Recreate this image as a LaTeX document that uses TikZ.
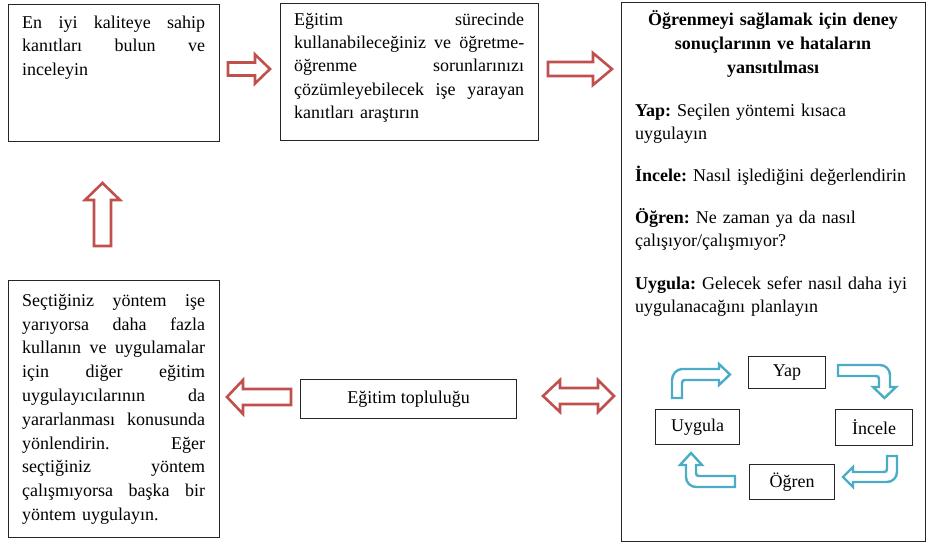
\documentclass[tikz,border=0pt]{standalone}
\usepackage{fontspec}
\setmainfont{Liberation Serif}
\definecolor{myred}{HTML}{C0504D}
\definecolor{mycyan}{HTML}{4BACC6}
\newcommand\fst{\rule{0pt}{16.5pt}}
\newcommand\jl[2]{\leavevmode\hbox to #1{#2}}
\frenchspacing
\begin{document}
\begin{tikzpicture}[x=1pt,y=-1pt,
  box/.style={draw=black!85, line width=1.1pt, rectangle, inner sep=0pt, anchor=north west, font=\fontsize{18}{22}\selectfont},
  txt/.style={inner sep=0pt, anchor=north west, align=left, font=\fontsize{18}{23.6}\selectfont},
  redarrow/.style={draw=myred, line width=2.6pt, fill=white, line join=miter},
  cyarrow/.style={draw=mycyan, line width=2.4pt, fill=white, line join=miter}]
\useasboundingbox (0,0) rectangle (926,543);
% boxes
\node[box, minimum width=211pt, minimum height=137pt] (A) at (8,4) {};
\node[box, minimum width=258pt, minimum height=137pt] (B) at (280,3) {};
\node[box, minimum width=304pt, minimum height=539pt] (C) at (621,2) {};
\node[box, minimum width=211pt, minimum height=257pt] (D) at (8,280) {};
\node[box, minimum width=216pt, minimum height=39pt] (E) at (300,379) {Eğitim topluluğu};
\node[box, minimum width=77pt, minimum height=32pt] (yap) at (748,356) {Yap};
\node[box, minimum width=77pt, minimum height=36pt] (incele) at (835,409) {İncele};
\node[box, minimum width=85pt, minimum height=35pt] (ogren) at (749,464) {Öğren};
\node[box, minimum width=84pt, minimum height=35pt] (uygula) at (655,409) {Uygula};
% texts
\node[txt, text width=184pt] (tA) at (22,11.5) {\fst\jl{183pt}{En\hfill iyi\hfill kaliteye\hfill sahip}\\
\jl{183pt}{kanıtları\hfill bulun\hfill ve}\\
inceleyin};
\node[txt, text width=235pt, font=\fontsize{18}{23.4}\selectfont] (tB) at (294,8.5) {\fst\jl{230pt}{Eğitim\hfill sürecinde}\\
\jl{230pt}{kullanabileceğiniz\hfill ve\hfill öğretme-}\\
\jl{230pt}{öğrenme\hfill sorunlarınızı}\\
\jl{230pt}{çözümleyebilecek\hfill işe\hfill yarayan}\\
kanıtları araştırın};
\node[txt, text width=184pt, font=\fontsize{18}{23.8}\selectfont] (tD) at (22,289.5) {\fst\jl{183pt}{Seçtiğiniz\hfill yöntem\hfill işe}\\
\jl{183pt}{yarıyorsa\hfill daha\hfill fazla}\\
\jl{183pt}{kullanın\hfill ve\hfill uygulamalar}\\
\jl{183pt}{için\hfill diğer\hfill eğitim}\\
\jl{183pt}{uygulayıcılarının\hfill da}\\
\jl{183pt}{yararlanması\hfill konusunda}\\
\jl{183pt}{yönlendirin.\hfill Eğer}\\
\jl{183pt}{seçtiğiniz\hfill yöntem}\\
\jl{183pt}{çalışmıyorsa\hfill başka\hfill bir}\\
yöntem uygulayın.};
\node[txt, anchor=north, align=center, text width=300pt, font=\fontsize{18}{24}\selectfont\bfseries] (tC) at (773,8.5) {\fst Öğrenmeyi sağlamak için deney\\
sonuçlarının ve hataların\\
yansıtılması};
\node[txt, text width=300pt, font=\fontsize{18}{23.5}\selectfont] (p1) at (635,99.5) {\fst\textbf{Yap:} Seçilen yöntemi kısaca\\ uygulayın};
\node[txt, text width=300pt] (p2) at (635,164.5) {\fst\textbf{İncele:} Nasıl işlediğini değerlendirin};
\node[txt, text width=300pt, font=\fontsize{18}{23.5}\selectfont] (p3) at (635,206.5) {\fst\textbf{Öğren:} Ne zaman ya da nasıl\\ çalışıyor/çalışmıyor?};
\node[txt, text width=300pt, font=\fontsize{18}{23.5}\selectfont] (p4) at (635,272.5) {\fst\textbf{Uygula:} Gelecek sefer nasıl daha iyi\\ uygulanacağını planlayın};
% red block arrows
\draw[redarrow] (228,62.5) -- (255,62.5) -- (255,54.5) -- (270,69) -- (255,83.5) -- (255,75.5) -- (228,75.5) -- cycle;
\draw[redarrow] (548,62) -- (593,62) -- (593,53) -- (612,69) -- (593,85) -- (593,76) -- (548,76) -- cycle;
\draw[redarrow] (94,246) -- (94,200) -- (85,200) -- (102.5,183) -- (120,200) -- (111,200) -- (111,246) -- cycle;
\draw[redarrow] (291,389) -- (243,389) -- (243,380) -- (227,397) -- (243,414) -- (243,405) -- (291,405) -- cycle;
\draw[redarrow] (543,396) -- (560,380) -- (560,388) -- (598,388) -- (598,380) -- (614,396) -- (598,412) -- (598,404) -- (560,404) -- (560,412) -- cycle;
% cyan bent arrows
\draw[cyarrow] (672,398) -- (672,380) .. controls (672,374.5) and (676.5,369) .. (682,369) -- (719,369) -- (719,364) -- (730,374.5) -- (719,385) -- (719,380) -- (685,380) .. controls (683,380) and (682,381) .. (682,383) -- (682,398) -- cycle;
\draw[cyarrow] (838,365) -- (880,365) .. controls (885.5,365) and (890,369.5) .. (890,375) -- (890,387) -- (896,387) -- (884.5,398) -- (873,387) -- (879,387) -- (879,379) .. controls (879,377) and (878,376) .. (876,376) -- (838,376) -- cycle;
\draw[cyarrow] (887,456) -- (887,469) .. controls (887,471) and (886,472) .. (884,472) -- (853,472) -- (853,467) -- (843,477) -- (853,487) -- (853,482) -- (887,482) .. controls (892.5,482) and (897,477.5) .. (897,472) -- (897,456) -- cycle;
\draw[cyarrow] (735,476) -- (699,476) .. controls (697,476) and (696,475) .. (696,473) -- (696,465) -- (702,465) -- (691,453) -- (680,465) -- (686,465) -- (686,477) .. controls (686,482.5) and (690.5,487) .. (696,487) -- (735,487) -- cycle;
\end{tikzpicture}
\end{document}
